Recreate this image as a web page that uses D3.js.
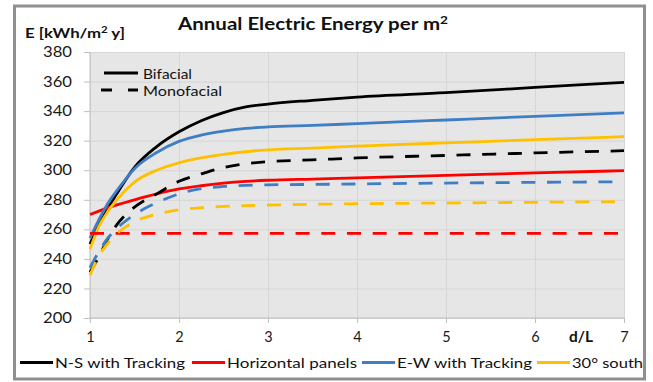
<!DOCTYPE html>
<html><head><meta charset="utf-8">
<script src="https://cdn.jsdelivr.net/npm/d3@7"></script>
<style>
html,body{margin:0;padding:0;background:#fff;}
svg{display:block;font-family:Lato,"Open Sans",sans-serif;}
</style></head>
<body>
<svg id="chart" width="653" height="382"></svg>
<script>
// ---- data ----
const dL      = [1, 1.1, 1.2, 1.3, 1.5, 1.75, 2, 2.25, 2.5, 2.75, 3, 3.5, 4, 5, 6, 7];
const nsBi    = [250, 263, 274, 284, 302, 316, 326, 333.5, 339, 342.8, 344.8, 347.3, 349.5, 352.5, 356, 359.5];
const hzBi    = [270, 272.3, 274.5, 276.5, 280, 284, 287.3, 289.5, 291.2, 292.4, 293.2, 294, 294.8, 296.5, 298.2, 299.7];
const ewBi    = [254, 266.5, 277.5, 286, 301, 312, 319.5, 323.8, 326.5, 328.3, 329.3, 330.3, 331.5, 334, 336.5, 338.8];
const s30Bi   = [246.5, 262, 272, 280, 292, 300, 305, 308.3, 310.7, 312.5, 313.8, 315, 316.3, 318.5, 320.7, 322.7];
const nsMono  = [231, 241.5, 253.5, 263, 275, 284, 292.5, 297.5, 301.8, 304.3, 305.8, 307, 308.3, 310, 311.7, 313.2];
const hzMono  = [257.3, 257.3, 257.3, 257.3, 257.3, 257.3, 257.3, 257.3, 257.3, 257.3, 257.3, 257.3, 257.3, 257.3, 257.3, 257.3];
const ewMono  = [234, 245, 254, 260.5, 270, 278, 284, 287.5, 289, 289.8, 290.1, 290.4, 290.7, 291.3, 291.8, 292.2];
const s30Mono = [229, 242, 250.5, 257, 265.2, 270.3, 273.2, 274.6, 275.5, 276, 276.4, 276.9, 277.3, 277.8, 278.3, 278.7];

const seriesNames = ["N-S with Tracking", "Horizontal panels", "E-W with Tracking", "30° south"];
const seriesColors = ["#000000", "#FF0000", "#3F7EC4", "#FFC000"];
const xTicks = [1, 2, 3, 4, 5, 6, 7];
const yTicks = [200, 220, 240, 260, 280, 300, 320, 340, 360, 380];
const typeNames = ["Bifacial", "Monofacial"];

const biSeries = [nsBi, hzBi, ewBi, s30Bi];
const monoSeries = [nsMono, hzMono, ewMono, s30Mono];

// ---- layout ----
const svg = d3.select("#chart");
const L = 90, R = 624, T = 52, B = 318;
const x = d3.scaleLinear().domain([1, 7]).range([L, R]);
const y = d3.scaleLinear().domain([200, 380]).range([B, T]);

// outer frame
svg.append("rect").attr("x", 14.5).attr("y", 6).attr("width", 630).attr("height", 373)
  .attr("fill", "#fff").attr("stroke", "#8f8f8f").attr("stroke-width", 3);

// plot bg
svg.append("rect").attr("x", L).attr("y", T).attr("width", R - L).attr("height", B - T).attr("fill", "#e6e6e6");

// gridlines
svg.append("g").attr("transform", `translate(${L},0)`)
  .call(d3.axisLeft(y).tickValues(yTicks).tickSize(-(R - L)).tickFormat(""))
  .call(g => g.select(".domain").remove())
  .call(g => g.selectAll("line").attr("stroke", "#d6d6d6").attr("stroke-width", 1));
svg.append("g").attr("transform", `translate(0,${B})`)
  .call(d3.axisBottom(x).tickValues(xTicks).tickSize(-(B - T)).tickFormat(""))
  .call(g => g.select(".domain").remove())
  .call(g => g.selectAll("line").attr("stroke", "#d6d6d6").attr("stroke-width", 1));

// axes
const yAxis = svg.append("g").attr("transform", `translate(${L},0)`)
  .call(d3.axisLeft(y).tickValues(yTicks).tickSize(6).tickPadding(12).tickFormat(d3.format("d")));
yAxis.select(".domain").attr("stroke", "#bfbfbf").attr("d", `M0,${T}V${B}`);
yAxis.selectAll("line").attr("stroke", "#bfbfbf");
yAxis.selectAll("text").attr("font-size", 14.5).attr("fill", "#1a1a1a")
  .attr("font-family", "Lato").attr("textLength", 29).attr("lengthAdjust", "spacingAndGlyphs");

const xAxis = svg.append("g").attr("transform", `translate(0,${B})`)
  .call(d3.axisBottom(x).tickValues(xTicks).tickSize(5).tickPadding(9).tickFormat(d3.format("d")));
xAxis.select(".domain").attr("stroke", "#bfbfbf").attr("d", `M${L},0H${R}`);
xAxis.selectAll("line").attr("stroke", "#bfbfbf");
xAxis.selectAll("text").attr("font-size", 14.5).attr("fill", "#1a1a1a").attr("font-family", "Lato");

// lines
const line = d3.line().x((d, i) => x(dL[i])).y(d => y(d)).curve(d3.curveMonotoneX);
const lw = 2.8;
biSeries.forEach((s, k) => {
  svg.append("path").attr("d", line(s)).attr("fill", "none")
    .attr("stroke", seriesColors[k]).attr("stroke-width", lw);
});
monoSeries.forEach((s, k) => {
  svg.append("path").attr("d", line(s)).attr("fill", "none")
    .attr("stroke", seriesColors[k]).attr("stroke-width", lw)
    .attr("stroke-dasharray", "14,11.7");
});

// texts
function txt(xp, yp, s, size, bold, len, anchor) {
  const t = svg.append("text").attr("x", xp).attr("y", yp).text(s)
    .attr("font-size", size).attr("font-weight", bold ? 700 : 400).attr("fill", "#111")
    .attr("text-anchor", anchor || "start");
  if (len) t.attr("textLength", len).attr("lengthAdjust", "spacingAndGlyphs");
  return t;
}
const title = svg.append("text").attr("x", 178).attr("y", 30)
  .attr("font-size", 16.5).attr("font-weight", 700).attr("fill", "#111");
title.append("tspan").text("Annual Electric Energy per m");
title.append("tspan").text("2").attr("font-size", 11).attr("dy", -6);
title.attr("textLength", 270).attr("lengthAdjust", "spacingAndGlyphs");

const yl = svg.append("text").attr("x", 25).attr("y", 38)
  .attr("font-size", 14).attr("font-weight", 700).attr("fill", "#111");
yl.append("tspan").text("E [kWh/m");
yl.append("tspan").text("2").attr("font-size", 9.5).attr("dy", -5);
yl.append("tspan").text(" y]").attr("dy", 5);
yl.attr("textLength", 100).attr("lengthAdjust", "spacingAndGlyphs");

txt(569, 342, "d/L", 14.5, true, 24);

// inner legend
svg.append("line").attr("x1", 104).attr("x2", 138).attr("y1", 73).attr("y2", 73)
  .attr("stroke", "#000").attr("stroke-width", lw);
svg.append("line").attr("x1", 101).attr("x2", 138).attr("y1", 90).attr("y2", 90)
  .attr("stroke", "#000").attr("stroke-width", lw).attr("stroke-dasharray", "11,16");
txt(143, 79, typeNames[0], 14, false, 49);
txt(143, 96, typeNames[1], 14, false, 79);

// bottom legend
const legX = [20, 192, 362, 537];
const legLen = [130, 130, 135, 71];
seriesNames.forEach((n, k) => {
  svg.append("line").attr("x1", legX[k]).attr("x2", legX[k] + 33).attr("y1", 362.5).attr("y2", 362.5)
    .attr("stroke", seriesColors[k]).attr("stroke-width", lw);
  txt(legX[k] + 35, 367.5, n, 14, false, legLen[k]);
});
</script>
</body></html>
